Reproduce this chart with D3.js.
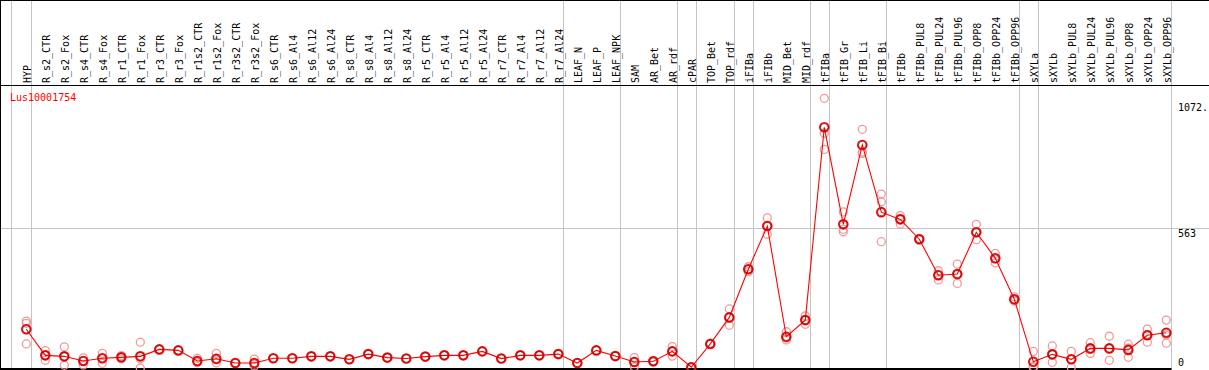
<!DOCTYPE html>
<html>
<head>
<meta charset="utf-8">
<script src="https://cdn.jsdelivr.net/npm/d3@7/dist/d3.min.js"></script>
<style>
html, body { margin: 0; padding: 0; background: #fff; }
svg { display: block; }
text { font-family: "DejaVu Sans Mono", "Liberation Mono", monospace; font-size: 10px; }
</style>
</head>
<body>
<svg id="chart" width="1209" height="370"></svg>
<script>
const geneName = "Lus10001754";

const categories = ["HYP","R_s2_CTR","R_s2_Fox","R_s4_CTR","R_s4_Fox","R_r1_CTR","R_r1_Fox","R_r3_CTR","R_r3_Fox",
  "R_r1s2_CTR","R_r1s2_Fox","R_r3s2_CTR","R_r3s2_Fox","R_s6_CTR","R_s6_Al4","R_s6_Al12","R_s6_Al24",
  "R_s8_CTR","R_s8_Al4","R_s8_Al12","R_s8_Al24","R_r5_CTR","R_r5_Al4","R_r5_Al12","R_r5_Al24",
  "R_r7_CTR","R_r7_Al4","R_r7_Al12","R_r7_Al24","LEAF_N","LEAF_P","LEAF_NPK","SAM","AR_Bet","AR_rdf",
  "cPAR","TOP_Bet","TOP_rdf","iFIBa","iFIBb","MID_Bet","MID_rdf","tFIBa","tFIB_Gr","tFIB_Li","tFIB_Bi",
  "tFIBb","tFIBb_PUL8","tFIBb_PUL24","tFIBb_PUL96","tFIBb_OPP8","tFIBb_OPP24","tFIBb_OPP96",
  "sXYLa","sXYLb","sXYLb_PUL8","sXYLb_PUL24","sXYLb_PUL96","sXYLb_OPP8","sXYLb_OPP24","sXYLb_OPP96"];

const means = [156,51,47,28,39,43,47,75,71,
  28,37,20,20,39,39,47,47,
  35,56,42,38,46,51,51,67,
  38,51,51,56,20,71,48,24,27,67,
  3,97,204,398,572,126,193,970,579,899,628,
  599,519,374,379,547,442,277,
  25,55,35,79,79,73,132,142];

const replicates = [
  [189,180,97],[70,31,52],[85,11,45],[41,12,30],[59,19,39],[50,36,43],[104,37,0],[75],[71],
  [39,21,25],[59,21,32],[20],[36,8,16],[39],[39],[47],[47],
  [35],[56],[42],[38],[46],[51],[51],[67],
  [38],[51],[51],[56],[20],[71],[48],[42,5,25],[30,24,27],[86,48,67],
  [3,2,4],[100,95,97],[238,172,202],[408,388,398],[605,539,572],[146,113,120],[210,176,193],
  [1087,946,881],[629,559,549],[962,865,870],[701,670,509],
  [614,580,603],[522,516,519],[392,355,375],[419,341,377],[579,517,545],[462,424,440],[287,270,274],
  [67,5,3],[89,23,53],[67,3,35],[102,59,76],[128,31,78],[96,43,80],[157,104,135],[193,100,133]];

const groupEnds = ["HYP","R_r7_Al24","LEAF_NPK","AR_rdf","cPAR","TOP_rdf","iFIBa","MID_rdf",
  "tFIBa","tFIB_Bi","tFIBb_OPP96","sXYLa","sXYLb_OPP96"];

const yTicks = [0, 563, 1072];
const yTickLabels = ["0", "563", "1072."];

const W = 1209, H = 370;
const svg = d3.select("#chart");

const x = d3.scalePoint().domain(categories).range([26.3, 1166.3]);
const y = d3.scaleLinear().domain([0, 1072]).range([368, 102]);

const gray = "#c4c4c4";

// horizontal gridline at middle tick
svg.append("line")
  .attr("x1", 0).attr("x2", W)
  .attr("y1", Math.round(y(563)) + 0.5).attr("y2", Math.round(y(563)) + 0.5)
  .attr("stroke", gray).attr("stroke-width", 1);

// vertical group separators
const sepX = [x(categories[0]) - 15.6].concat(groupEnds.map(c => x(c) + 4.4));
svg.selectAll("line.sep").data(sepX).enter().append("line")
  .attr("class", "sep")
  .attr("x1", d => Math.round(d) + 0.5).attr("x2", d => Math.round(d) + 0.5)
  .attr("y1", 0).attr("y2", H)
  .attr("stroke", gray).attr("stroke-width", 1);

// borders
svg.append("line").attr("x1", 0).attr("x2", W).attr("y1", 0.5).attr("y2", 0.5).attr("stroke", "#000");
svg.append("line").attr("x1", 0.5).attr("x2", 0.5).attr("y1", 0).attr("y2", H).attr("stroke", "#000");
svg.append("line").attr("x1", 0).attr("x2", W).attr("y1", 85.5).attr("y2", 85.5).attr("stroke", "#000");
svg.append("line").attr("x1", 0).attr("x2", Math.round(x(categories[categories.length-1]) + 4.4) + 0.5)
  .attr("y1", 369).attr("y2", 369).attr("stroke", "#000").attr("stroke-width", 2);

// header labels
svg.selectAll("text.cat").data(categories).enter().append("text")
  .attr("class", "cat")
  .attr("transform", d => `translate(${x(d) + 4.4},83) rotate(-90)`)
  .attr("text-anchor", "start")
  .attr("fill", "#000")
  .text(d => d);

// gene name
svg.append("text").attr("x", 10).attr("y", 101).attr("fill", "#ff0000").text(geneName);

// right value labels
svg.selectAll("text.ytick").data(yTicks).enter().append("text")
  .attr("class", "ytick")
  .attr("x", 1178)
  .attr("y", d => Math.min(y(d) + 8.5, 365.5))
  .attr("fill", "#000")
  .text((d, i) => yTickLabels[i]);

// replicate points
const repPts = [];
replicates.forEach((arr, i) => arr.forEach(v => repPts.push({c: categories[i], v})));
svg.selectAll("circle.rep").data(repPts).enter().append("circle")
  .attr("class", "rep")
  .attr("cx", d => x(d.c)).attr("cy", d => y(d.v)).attr("r", 4)
  .attr("fill", "none").attr("stroke", "#f09a9a").attr("stroke-width", 1.3);

// mean line
const line = d3.line().x((d, i) => x(categories[i])).y(d => y(d));
svg.append("path").datum(means)
  .attr("d", line).attr("fill", "none").attr("stroke", "#ff0000").attr("stroke-width", 1.1);

// mean points
const meanG = svg.selectAll("g.mean").data(means).enter().append("g")
  .attr("class", "mean")
  .attr("transform", (d, i) => `translate(${x(categories[i])},${y(d)})`);
meanG.append("circle").attr("r", 4.5).attr("fill", "none").attr("stroke", "#ff0000").attr("stroke-width", 1.6);
meanG.append("circle").attr("r", 3.7).attr("fill", "none").attr("stroke", "#500000").attr("stroke-width", 0.6);
</script>
</body>
</html>
